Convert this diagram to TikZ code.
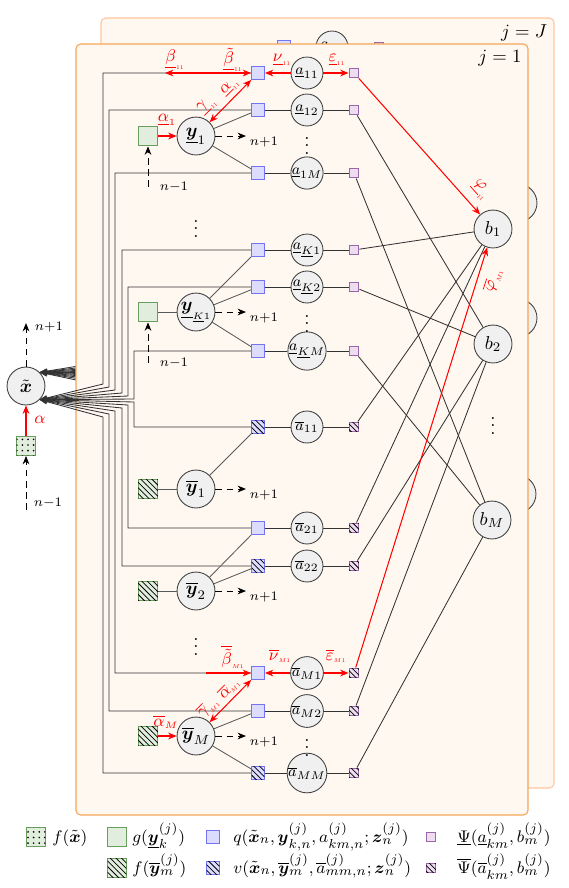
\documentclass[tikz,border=0pt]{standalone}
\usepackage{amsmath,amssymb}
\usetikzlibrary{arrows.meta,patterns}
\definecolor{panelfill}{HTML}{FFF8F0}
\definecolor{frontdraw}{HTML}{F5A658}
\definecolor{backdraw}{HTML}{FFC79E}
\definecolor{bfill}{HTML}{DCDCFF}
\definecolor{bdraw}{HTML}{7474F2}
\definecolor{pfill}{HTML}{EEDDF0}
\definecolor{pdraw}{HTML}{9A68A6}
\definecolor{gfill}{HTML}{E2EEDD}
\definecolor{gdraw}{HTML}{6A9E5E}
\definecolor{nfill}{HTML}{F0F0F0}
\definecolor{ndraw}{HTML}{3C3C3C}
\newcommand\tinyidx[1]{{\scalebox{0.6}{$\scriptscriptstyle #1$}}}
\begin{document}
\begin{tikzpicture}[x=0.535pt,y=-0.535pt,
  >={Stealth[length=4.5pt,width=3.6pt]},
  vnode/.style={circle,draw=ndraw,fill=nfill,line width=0.45pt,inner sep=0pt,minimum size=20.3pt},
  anode/.style={vnode,minimum size=17.1pt,font=\footnotesize},
  qsq/.style={rectangle,draw=bdraw,fill=bfill,line width=0.6pt,inner sep=0pt,minimum size=6.8pt},
  vsq/.style={qsq,postaction={pattern=north west lines}},
  psq/.style={rectangle,draw=pdraw,fill=pfill,line width=0.6pt,inner sep=0pt,minimum size=5.2pt},
  phsq/.style={psq,postaction={pattern=north west lines}},
  gsq/.style={rectangle,draw=gdraw,fill=gfill,line width=0.6pt,inner sep=0pt,minimum size=10.5pt},
  ghsq/.style={gsq,postaction={pattern=north west lines}},
  gdsq/.style={gsq,minimum size=10pt,postaction={pattern=dots}},
  con/.style={draw=black!80,line width=0.45pt},
  ycon/.style={draw=black!65,line width=0.45pt},
  fan/.style={con,{Stealth[length=4pt,width=3pt]}-},
  rarr/.style={draw=red,line width=0.55pt,->},
  rboth/.style={draw=red,line width=0.55pt,<->},
  darr/.style={draw=black,line width=0.5pt,dash pattern=on 3.5pt off 2.5pt,->},
  rlab/.style={text=red,font=\small,inner sep=0pt},
  nlab/.style={inner sep=0pt},
  leglab/.style={inner sep=0pt,anchor=base west,font=\fontsize{9.5pt}{11pt}\selectfont},
  panelF/.style={draw=frontdraw,fill=panelfill,line width=0.6pt,rounded corners=2.5pt},
  panelB/.style={draw=backdraw,fill=panelfill,line width=0.6pt,rounded corners=2.5pt}
]
\fill[white] (0,0) rectangle (569,888);
\path[use as bounding box] (0,0) rectangle (569,888);

% x tilde node
\node[vnode] (xt) at (26,386) {$\tilde{\boldsymbol{x}}$};

% fan to the back panel (j=J), hidden behind panels
\foreach \rx/\cy in {103/384,109/387,115/390,122/393,128/396,134/399,134/402,128/405,122/408,115/411,109/414,103/417}
  \draw[fan] (xt.north east) -- (\rx+25,\cy-26);

% back panel j=J
\draw[panelB] (101,18) rectangle (554,788);
\node[qsq] (qB) at (284,47) {};
\node[anode] (aB) at (332,47) {$\underline{a}_{11}$};
\node[psq] (pB) at (379,47) {};
\draw[con] (qB) -- (aB) -- (pB);
\node[vnode] (bB1) at (518,203) {$b_1$};
\node[vnode] (bB2) at (518,318) {$b_2$};
\node[vnode] (bBM) at (517,494) {$b_M$};
\node[nlab] (jJ) at (524,33) {$j=J$};

% front panel j=1
\draw[panelF] (76,44) rectangle (528,815);
\node[nlab] (j1) at (500,58) {$j=1$};

% rows of factor / association nodes
\foreach \i/\yy/\qs/\ps/\lab in {
 1/73/qsq/psq/{$\underline{a}_{11}$},
 2/110/qsq/psq/{$\underline{a}_{12}$},
 3/173/qsq/psq/{$\underline{a}_{1M}$},
 4/250/qsq/psq/{$\underline{a}_{\underline{K}1}$},
 5/287/qsq/psq/{$\underline{a}_{\underline{K}2}$},
 6/351/qsq/psq/{$\underline{a}_{\underline{K}M}$},
 7/427/vsq/phsq/{$\overline{a}_{11}$},
 8/528/qsq/phsq/{$\overline{a}_{21}$},
 9/566/vsq/phsq/{$\overline{a}_{22}$},
 10/673/qsq/phsq/{$\overline{a}_{M1}$},
 11/711/qsq/phsq/{$\overline{a}_{M2}$},
 12/773/vsq/phsq/{$\overline{a}_{MM}$}}
{
 \node[\qs] (q\i) at (258,\yy) {};
 \node[anode] (a\i) at (307,\yy) {\lab};
 \node[\ps] (p\i) at (354,\yy) {};
}
\node (ad1) at (307,140) {$\vdots$};
\node (ad2) at (307,318) {$\vdots$};
\node (ad3) at (307,742) {$\vdots$};

\foreach \i in {2,3,4,5,6,7,8,9,11,12}
  \draw[con] (q\i) -- (a\i) -- (p\i);

% rails from x tilde to the q factors
\foreach \i/\rx/\cy in {1/103/384,2/109/387,3/115/390,4/122/393,5/128/396,6/134/399,7/134/402,8/128/405,9/122/408,10/115/411,11/109/414,12/103/417}
  \draw[fan] (xt.south east) -- (\rx,\cy) |- (q\i);

% b nodes
\node[vnode] (b1) at (493,229) {$b_1$};
\node[vnode] (b2) at (493,344) {$b_2$};
\node[vnode] (bM) at (492,520) {$b_M$};
\node (bd) at (493,420) {$\vdots$};

\foreach \i/\b in {2/b2,3/bM,4/b1,5/b2,6/bM,7/b1,8/b1,9/b2,11/b2,12/bM}
  \draw[con] (p\i) -- (\b);

% target nodes
\node[vnode] (y1) at (196,136) {$\underline{\boldsymbol{y}}_1$};
\node[vnode] (yK) at (196,312) {$\underline{\boldsymbol{y}}_{\scriptscriptstyle\underline{K}1}$};
\node[vnode] (yb1) at (196,489) {$\overline{\boldsymbol{y}}_1$};
\node[vnode] (yb2) at (196,591) {$\overline{\boldsymbol{y}}_2$};
\node[vnode] (ybM) at (196,736) {$\overline{\boldsymbol{y}}_M$};
\node (yd1) at (196,223) {$\vdots$};
\node (yd2) at (196,641) {$\vdots$};

\node[gsq] (g1) at (148,136) {};
\node[gsq] (gK) at (148,312) {};
\node[ghsq] (gb1) at (148,489) {};
\node[ghsq] (gb2) at (148,591) {};
\node[ghsq] (gbM) at (148,736) {};

\draw[rarr] (g1) -- (y1);
\draw[ycon] (gK) -- (yK);
\draw[ycon] (gb1) -- (yb1);
\draw[ycon] (gb2) -- (yb2);
\draw[rarr] (gbM) -- (ybM);

\draw[ycon] (y1) -- (q2);
\draw[ycon] (y1) -- (q3);
\draw[ycon] (yK) -- (q4);
\draw[ycon] (yK) -- (q5);
\draw[ycon] (yK) -- (q6);
\draw[ycon] (yb1) -- (q7);
\draw[ycon] (yb2) -- (q8);
\draw[ycon] (yb2) -- (q9);
\draw[ycon] (ybM) -- (q11);
\draw[ycon] (ybM) -- (q12);

% dashed arrows to next time step
\foreach \nm/\yy in {y1/136,yK/312,yb1/489,yb2/591,ybM/736}{
  \coordinate (\nm e) at (246,\yy);
  \draw[darr] (\nm) -- (\nm e);
  \node[nlab] (\nm t) at (264,\yy+6) {$\scriptstyle n{+}1$};
}
\coordinate (g1s) at (148,187);
\draw[darr] (g1s) -- (g1);
\node[nlab] (g1t) at (174,187) {$\scriptstyle n{-}1$};
\coordinate (gKs) at (148,363);
\draw[darr] (gKs) -- (gK);
\node[nlab] (gKt) at (174,363) {$\scriptstyle n{-}1$};

% red messages, top row
\coordinate (bl) at (165,73);
\draw[rboth] (bl) -- (q1);
\draw[rarr] (a1) -- (q1);
\draw[rarr] (a1) -- (p1);
\draw[rboth] (y1) -- (q1);
\draw[rarr] (p1) -- (b1);
\node[rlab] (lb) at (175,60) {$\underline{\beta}_{\tinyidx{11}}$};
\node[rlab] (lbt) at (233,60) {$\underline{\tilde{\beta}}_{\tinyidx{11}}$};
\node[rlab] (lnu) at (282,60) {$\underline{\nu}_{\tinyidx{11}}$};
\node[rlab] (lep) at (337,60) {$\underline{\varepsilon}_{\tinyidx{11}}$};
\node[rlab,rotate=45] (lal) at (230,87) {$\underline{\alpha}_{\tinyidx{11}}$};
\node[rlab,rotate=45] (lga) at (207,105) {$\underline{\gamma}_{\tinyidx{11}}$};
\node[rlab] (la1) at (167,120) {$\underline{\alpha}_{\scriptscriptstyle 1}$};
\node[rlab,rotate=-48] (lph) at (481,190) {$\underline{\varphi}_{\tinyidx{11}}$};

% red messages, bottom row
\coordinate (bm) at (206,673);
\draw[rarr] (bm) -- (q10);
\draw[rarr] (a10) -- (q10);
\draw[rarr] (a10) -- (p10);
\draw[rboth] (ybM) -- (q10);
\draw[rarr] (p10) -- (b1);
\node[rlab] (lbtM) at (233,657) {$\overline{\tilde{\beta}}_{\tinyidx{M1}}$};
\node[rlab] (lnuM) at (280,656) {$\overline{\nu}_{\tinyidx{M1}}$};
\node[rlab] (lepM) at (336,656) {$\overline{\varepsilon}_{\tinyidx{M1}}$};
\node[rlab,rotate=45] (lalM) at (229,688) {$\overline{\alpha}_{\tinyidx{M1}}$};
\node[rlab,rotate=45] (lgaM) at (208,707) {$\overline{\gamma}_{\tinyidx{M1}}$};
\node[rlab] (laM) at (166,722) {$\overline{\alpha}_{\scriptscriptstyle M}$};
\node[rlab,rotate=72] (lphM) at (493,280) {$\overline{\varphi}_{\tinyidx{M1}}$};

% x tilde prior and time arrows
\node[gdsq] (fx) at (26,446) {};
\draw[rarr] (fx) -- (xt);
\node[rlab] (lalx) at (40,420) {$\alpha$};
\coordinate (xtu) at (26,323);
\draw[darr] (xt) -- (xtu);
\node[nlab] (xtt) at (49,327) {$\scriptstyle n{+}1$};
\coordinate (fxd) at (26,510);
\draw[darr] (fxd) -- (fx);
\node[nlab] (fxt) at (48,503) {$\scriptstyle n{-}1$};

% legend
\node[gdsq] (L1) at (36,837) {};
\node[leglab] (L1t) at (52,842) {$f(\tilde{\boldsymbol{x}})$};
\node[gsq,minimum size=10pt] (L2) at (117,837) {};
\node[leglab] (L2t) at (132,842) {$g(\underline{\boldsymbol{y}}_k^{(j)})$};
\node[qsq] (L3) at (213,837) {};
\node[leglab] (L3t) at (233,842) {$q(\tilde{\boldsymbol{x}}_n, \boldsymbol{y}_{k,n}^{(j)}, a_{km,n}^{(j)}; \boldsymbol{z}_n^{(j)})$};
\node[psq] (L4) at (431,837) {};
\node[leglab] (L4t) at (457,842) {$\underline{\Psi}(\underline{a}_{km}^{(j)}, b_m^{(j)})$};
\node[ghsq,minimum size=10pt] (L5) at (117,868) {};
\node[leglab] (L5t) at (132,873) {$f(\overline{\boldsymbol{y}}_m^{(j)})$};
\node[vsq] (L6) at (213,868) {};
\node[leglab] (L6t) at (233,873) {$v(\tilde{\boldsymbol{x}}_n, \overline{\boldsymbol{y}}_m^{(j)}, \overline{a}_{mm,n}^{(j)}; \boldsymbol{z}_n^{(j)})$};
\node[phsq] (L7) at (431,868) {};
\node[leglab] (L7t) at (457,873) {$\overline{\Psi}(\overline{a}_{km}^{(j)}, b_m^{(j)})$};
\end{tikzpicture}
\end{document}
